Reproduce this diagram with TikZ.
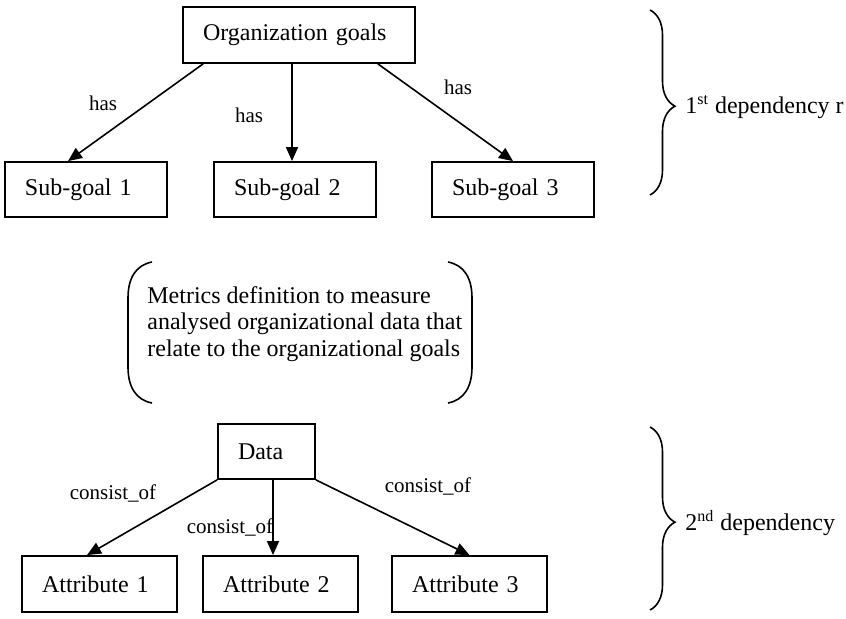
\documentclass[tikz,border=0pt]{standalone}
\usepackage{fontspec}
\setmainfont{Liberation Serif}
\usetikzlibrary{arrows.meta,decorations.pathreplacing}

\begin{document}
\begin{tikzpicture}[x=0.5pt, y=-0.5pt,
	box/.style={draw, line width=0.9pt, inner xsep=10pt, inner ysep=0pt, align=left,
		font=\fontsize{12}{14}\selectfont},
	goal/.style={box, text width=96pt, minimum height=28pt},
	subgoal/.style={box, text width=61pt, minimum height=27.5pt},
	databox/.style={box, text width=28.5pt, minimum height=27.5pt},
	attr/.style={box, text width=57.5pt, minimum height=28pt},
	rel/.style={line width=0.8pt, -{Triangle[length=7pt,width=6pt]}},
	lbl/.style={inner sep=0pt, font=\fontsize{10.5}{12}\selectfont},
	dep/.style={line width=0.8pt, decorate, decoration={brace, amplitude=12.5pt, aspect=0.52}},
	deptext/.style={inner sep=0pt, anchor=west, font=\fontsize{12}{14}\selectfont}]

	\useasboundingbox (0,0) rectangle (846,619);

	% Goals
	\node[goal] (org) at (299,35) {Organization goals};
	\node[subgoal] (sg1) at (86,189.5) {Sub-goal 1};
	\node[subgoal] (sg2) at (295,189.5) {Sub-goal 2};
	\node[subgoal] (sg3) at (513,189.5) {Sub-goal 3};

	\draw[rel] ([xshift=10.5pt]org.south west) -- ([xshift=-9pt]sg1.north);
	\draw[rel] ([xshift=-3.5pt]org.south) -- ([xshift=-1.5pt]sg2.north);
	\draw[rel] ([xshift=-19pt]org.south east) -- (sg3.north);

	\node[lbl] (has1) at (103,103) {has};
	\node[lbl] (has2) at (249,115) {has};
	\node[lbl] (has3) at (458,87) {has};

	% Metrics
	\node[inner sep=0pt, anchor=west, align=left, font=\fontsize{12}{13.25}\selectfont]
		(metrics) at (147,324) {Metrics definition to measure\\analysed organizational data that\\relate to the organizational goals};
	\draw[line width=0.8pt] (152,262) .. controls (136,265) and (128,278) .. (128,298)
		-- (128,367) .. controls (128,387) and (136,400) .. (152,403);
	\draw[line width=0.8pt] (448,262) .. controls (464,265) and (472,278) .. (472,298)
		-- (472,367) .. controls (472,387) and (464,400) .. (448,403);

	% Data
	\node[databox] (data) at (266.5,451.5) {Data};
	\node[attr] (at1) at (99.5,584) {Attribute 1};
	\node[attr] (at2) at (280.5,584) {Attribute 2};
	\node[attr] (at3) at (469.5,584) {Attribute 3};

	\draw[rel] (data.south west) -- ([xshift=-6.25pt]at1.north);
	\draw[rel] ([xshift=3.25pt]data.south) -- ([xshift=-3.75pt]at2.north);
	\draw[rel] (data.south east) -- (at3.north);

	\node[lbl] (con1) at (113,493) {consist\_of};
	\node[lbl] (con2) at (230,527) {consist\_of};
	\node[lbl] (con3) at (428,486) {consist\_of};

	% Dependencies
	\draw[dep] (650,10) -- (650,195);
	\node[deptext] (dep1) at (685,107) {1\textsuperscript{st} dependency r};
	\draw[dep] (650,427) -- (650,610);
	\node[deptext] (dep2) at (685,523) {2\textsuperscript{nd} dependency};

\end{tikzpicture}
\end{document}
